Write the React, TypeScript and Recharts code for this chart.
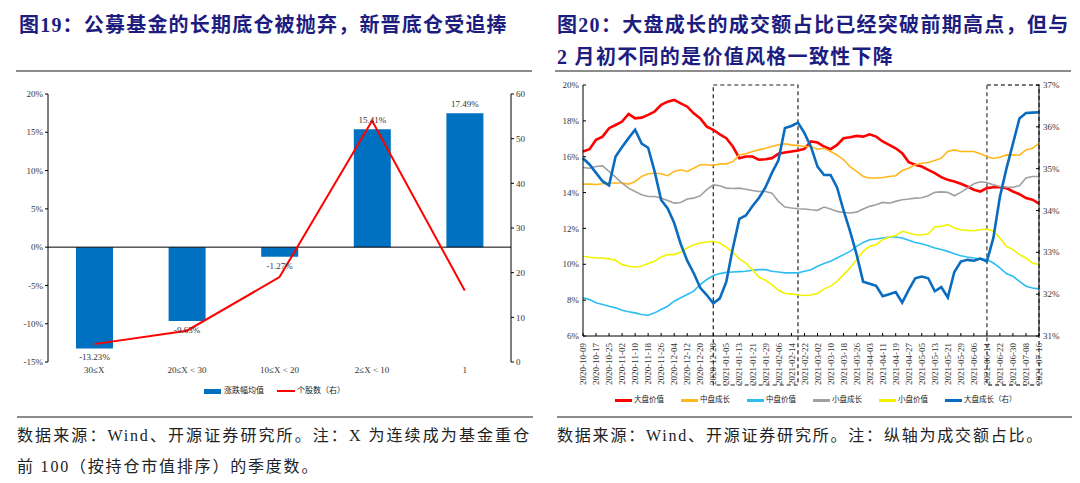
import { ComposedChart, LineChart, Bar, Line, XAxis, YAxis, ReferenceLine, ReferenceArea, LabelList } from "recharts";

const SERIF = "'Liberation Serif', 'Noto Sans CJK SC', serif";
const NAVY = "#1d1d80";
const INK = "#222";

// 图19：连续重仓季度数分组
const groups = ["30≤X", "20≤X < 30", "10≤X < 20", "2≤X < 10", "1"];
const avgReturn = [-13.23, -9.63, -1.27, 15.41, 17.49];
const stockCount = [4, 7, 19, 54, 16];

// 图20：成交额占比（每 4 日取一点）
const dates = [
  "2020-10-09", "2020-10-13", "2020-10-17", "2020-10-21", "2020-10-25", "2020-10-29",
  "2020-11-02", "2020-11-06", "2020-11-10", "2020-11-14", "2020-11-18", "2020-11-22", "2020-11-26", "2020-11-30",
  "2020-12-04", "2020-12-08", "2020-12-12", "2020-12-16", "2020-12-20", "2020-12-24", "2020-12-28",
  "2021-01-01", "2021-01-05", "2021-01-09", "2021-01-13", "2021-01-17", "2021-01-21", "2021-01-25", "2021-01-29",
  "2021-02-02", "2021-02-06", "2021-02-10", "2021-02-14", "2021-02-18", "2021-02-22", "2021-02-26",
  "2021-03-02", "2021-03-06", "2021-03-10", "2021-03-14", "2021-03-18", "2021-03-22", "2021-03-26", "2021-03-30",
  "2021-04-03", "2021-04-07", "2021-04-11", "2021-04-15", "2021-04-19", "2021-04-23", "2021-04-27",
  "2021-05-01", "2021-05-05", "2021-05-09", "2021-05-13", "2021-05-17", "2021-05-21", "2021-05-25", "2021-05-29",
  "2021-06-02", "2021-06-06", "2021-06-10", "2021-06-14", "2021-06-18", "2021-06-22", "2021-06-26", "2021-06-30",
  "2021-07-04", "2021-07-08", "2021-07-12", "2021-07-16",
];
const largeValue = [
  16.29, 16.42, 16.94, 17.12, 17.59, 17.77, 17.96, 18.39, 18.14, 18.18,
  18.33, 18.52, 18.89, 19.07, 19.17, 18.98, 18.79, 18.42, 18.14, 17.68,
  17.5, 17.25, 17.03, 16.57, 15.92, 16.01, 16.01, 15.83, 15.86, 15.92,
  16.16, 16.23, 16.29, 16.35, 16.44, 16.85, 16.79, 16.57, 16.42, 16.66,
  17.03, 17.09, 17.16, 17.12, 17.25, 17.12, 16.85, 16.66, 16.47, 16.2,
  15.7, 15.55, 15.45, 15.27, 15.08, 14.86, 14.71, 14.62, 14.49, 14.34,
  14.16, 14.06, 14.25, 14.3, 14.3, 14.25, 14.06, 13.91, 13.69, 13.6,
  13.38,
];
const midGrowth = [
  14.47, 14.47, 14.45, 14.49, 14.53, 14.53, 14.53, 14.47, 14.62, 14.9,
  15.05, 15.08, 15.05, 14.94, 15.18, 15.27, 15.18, 15.36, 15.55, 15.55,
  15.51, 15.6, 15.6, 15.73, 16.1, 16.16, 16.29, 16.38, 16.47, 16.57,
  16.66, 16.72, 16.66, 16.62, 16.57, 16.57, 16.42, 16.47, 16.29, 16.1,
  15.83, 15.45, 15.18, 14.9, 14.81, 14.81, 14.84, 14.9, 14.94, 15.23,
  15.36, 15.55, 15.64, 15.68, 15.79, 15.92, 16.29, 16.38, 16.29, 16.29,
  16.29, 16.16, 16.01, 15.9, 15.97, 16.1, 16.09, 16.1, 16.38, 16.47,
  16.75,
];
const midValue = [
  8.13, 8.03, 7.85, 7.76, 7.66, 7.57, 7.44, 7.35, 7.29, 7.2,
  7.16, 7.29, 7.48, 7.66, 7.94, 8.13, 8.31, 8.5, 8.87, 9.15,
  9.37, 9.48, 9.55, 9.57, 9.59, 9.61, 9.67, 9.7, 9.7, 9.61,
  9.57, 9.52, 9.52, 9.52, 9.61, 9.7, 9.89, 10.04, 10.17, 10.35,
  10.54, 10.72, 11.0, 11.22, 11.37, 11.41, 11.47, 11.52, 11.52, 11.47,
  11.34, 11.22, 11.15, 11.04, 10.91, 10.82, 10.72, 10.59, 10.48, 10.41,
  10.35, 10.3, 10.26, 10.07, 9.8, 9.48, 9.33, 9.05, 8.78, 8.68,
  8.63,
];
const smallGrowth = [
  15.4, 15.36, 15.45, 15.49, 15.18, 14.86, 14.53, 14.25, 14.06, 13.88,
  13.78, 13.78, 13.69, 13.56, 13.41, 13.45, 13.64, 13.69, 13.82, 14.16,
  14.43, 14.38, 14.25, 14.23, 14.25, 14.19, 14.12, 14.06, 14.06, 13.97,
  13.51, 13.19, 13.14, 13.1, 13.08, 13.04, 13.01, 13.19, 13.08, 12.95,
  12.89, 12.86, 12.91, 13.08, 13.23, 13.32, 13.45, 13.41, 13.51, 13.6,
  13.64, 13.69, 13.71, 13.82, 14.01, 14.04, 14.01, 13.82, 14.01, 14.25,
  14.49, 14.6, 14.56, 14.43, 14.34, 14.3, 14.3, 14.38, 14.81, 14.9,
  14.9,
];
const smallValue = [
  10.45, 10.39, 10.35, 10.35, 10.3, 10.22, 9.98, 9.89, 9.85, 9.89,
  10.04, 10.17, 10.41, 10.54, 10.54, 10.67, 10.91, 11.09, 11.19, 11.24,
  11.28, 11.19, 10.96, 10.67, 10.3, 10.07, 9.7, 9.29, 9.11, 8.87,
  8.55, 8.37, 8.35, 8.29, 8.26, 8.29, 8.37, 8.63, 8.78, 9.05,
  9.42, 9.8, 10.26, 10.72, 11.0, 11.09, 11.37, 11.52, 11.6, 11.84,
  11.74, 11.65, 11.65, 11.69, 12.08, 12.12, 12.21, 12.02, 11.93, 11.89,
  11.87, 11.93, 11.97, 11.84, 11.47, 11.0, 10.82, 10.54, 10.35, 10.07,
  9.98,
];
const largeGrowth = [
  35.25, 35.1, 34.9, 34.7, 34.6, 35.29, 35.52, 35.73, 35.93, 35.6,
  35.5, 34.93, 34.25, 34.05, 33.7, 33.2, 32.8, 32.5, 32.15, 31.98,
  31.78, 31.9, 32.3, 33.1, 33.8, 33.88, 34.1, 34.3, 34.55, 34.9,
  35.2, 35.97, 36.02, 36.1, 35.85, 35.52, 35.05, 34.85, 34.85, 34.55,
  34.0, 33.5, 32.95, 32.3, 32.25, 32.2, 31.95, 32.0, 32.05, 31.8,
  32.1, 32.38, 32.42, 32.38, 32.07, 32.17, 31.92, 32.53, 32.78, 32.82,
  32.8, 32.85, 32.78, 33.35, 34.33, 35.0, 35.6, 36.2, 36.33, 36.34,
  36.35,
];

const fig19 = groups.map((g, i) => ({ g, avg: avgReturn[i], cnt: stockCount[i] }));
const fig20 = dates.map((d, i) => ({
  d, lv: largeValue[i], mg: midGrowth[i], mv: midValue[i],
  sg: smallGrowth[i], sv: smallValue[i], lg: largeGrowth[i],
}));

const series20 = [
  { key: "lv", name: "大盘价值", color: "#FF0000", w: 2.6, axis: "l" },
  { key: "mg", name: "中盘成长", color: "#FFB81C", w: 1.6, axis: "l" },
  { key: "mv", name: "中盘价值", color: "#2DBDF0", w: 1.6, axis: "l" },
  { key: "sg", name: "小盘成长", color: "#A0A0A0", w: 1.6, axis: "l" },
  { key: "sv", name: "小盘价值", color: "#F2F200", w: 1.6, axis: "l" },
  { key: "lg", name: "大盘成长（右）", color: "#0A6CC0", w: 2.6, axis: "r" },
];

const tickFont = { fontSize: 9, fontFamily: SERIF, fill: "#333" };

const BarLabel = (p: any) => {
  const x = p.x ?? p.viewBox?.x;
  const y = p.y ?? p.viewBox?.y;
  const w = p.width ?? p.viewBox?.width;
  const h = p.height ?? p.viewBox?.height;
  const top = Math.min(y, y + h);
  const bottom = Math.max(y, y + h);
  const v = Number(p.value);
  return (
    <text x={x + w / 2} y={v >= 0 ? top - 6 : bottom + 12} textAnchor="middle" {...tickFont}>
      {v.toFixed(2)}%
    </text>
  );
};

const DateTick = ({ x, y, payload }: any) => (
  <g>
    <line x1={x} x2={x} y1={y} y2={y - 3} stroke="#000" />
    <text x={x} y={y + 7} transform={`rotate(-90 ${x} ${y + 7})`} textAnchor="end" dy="0.35em" {...tickFont}>
      {payload.value}
    </text>
  </g>
);

const LeftPctTick = ({ x, y, payload }: any) => (
  <g>
    <line x1={x} x2={x + 3} y1={y} y2={y} stroke="#000" />
    <text x={x - 4} y={y} dy="0.35em" textAnchor="end" {...tickFont}>{payload.value}%</text>
  </g>
);

const RightPctTick = ({ x, y, payload }: any) => (
  <g>
    <line x1={x} x2={x - 3} y1={y} y2={y} stroke="#000" />
    <text x={x + 4} y={y} dy="0.35em" textAnchor="start" {...tickFont}>{payload.value}%</text>
  </g>
);

const tallBox = (color: string, sw: number) => (p: any) => (
  <rect x={p.x} y={p.y} width={p.width} height={p.height + 49} fill="none"
    stroke={color} strokeWidth={sw} strokeDasharray="4 3" />
);

const abs = (left: number, top: number, extra: any = {}) => ({ position: "absolute" as const, left, top, ...extra });

export default function App() {
  return (
    <div style={abs(0, 0, { width: 1080, height: 483, background: "#fff", overflow: "hidden", fontFamily: SERIF })}>
      {/* titles */}
      <div style={abs(19, 15, { fontSize: 20, lineHeight: "20px", fontWeight: 700, color: NAVY, letterSpacing: 1.2, whiteSpace: "nowrap" })}>
        图19：公募基金的长期底仓被抛弃，新晋底仓受追捧
      </div>
      <div style={abs(557, 9, { fontSize: 20, lineHeight: "32px", fontWeight: 700, color: NAVY, letterSpacing: 1.3, whiteSpace: "nowrap" })}>
        图20：大盘成长的成交额占比已经突破前期高点，但与<br />2 月初不同的是价值风格一致性下降
      </div>
      <div style={abs(16, 70, { width: 516, height: 2, background: "#8c8c8c" })} />
      <div style={abs(555, 70, { width: 516, height: 2, background: "#8c8c8c" })} />

      {/* 图19 */}
      <div style={abs(0, 0)}>
        <ComposedChart width={540} height={483} data={fig19} margin={{ top: 94, right: 5, bottom: 101, left: 10 }}>
          <XAxis dataKey="g" axisLine={false} tickLine={false} tickSize={0} tickMargin={5} height={20} tick={tickFont} interval={0} />
          <YAxis yAxisId="l" domain={[-15, 20]} ticks={[-15, -10, -5, 0, 5, 10, 15, 20]} width={38}
            tick={tickFont} tickFormatter={(v: number) => `${v}%`} axisLine={{ stroke: "#000" }} tickLine={{ stroke: "#000" }} tickSize={3} />
          <YAxis yAxisId="r" orientation="right" domain={[0, 60]} ticks={[0, 10, 20, 30, 40, 50, 60]} width={24}
            tick={tickFont} axisLine={{ stroke: "#000" }} tickLine={{ stroke: "#000" }} tickSize={3} />
          <ReferenceLine yAxisId="l" y={0} stroke="#000" />
          <Bar yAxisId="l" dataKey="avg" fill="#0070C0" barSize={37} isAnimationActive={false}>
            <LabelList dataKey="avg" content={BarLabel} />
          </Bar>
          <Line yAxisId="r" type="linear" dataKey="cnt" stroke="#FF0000" strokeWidth={2} dot={false} isAnimationActive={false} />
        </ComposedChart>
      </div>
      <div style={abs(204, 385, { display: "flex", alignItems: "center", fontSize: 8, lineHeight: "12px", color: INK, whiteSpace: "nowrap" })}>
        <span style={{ width: 17, height: 5, background: "#0070C0", marginRight: 3 }} />
        <span>涨跌幅均值</span>
        <span style={{ width: 18, height: 2, background: "#FF0000", marginLeft: 13, marginRight: 2 }} />
        <span>个股数（右）</span>
      </div>

      {/* 图20 */}
      <div style={abs(540, 0)}>
        <LineChart width={540} height={483} data={fig20} margin={{ top: 85, right: 10, bottom: 97, left: 10 }}>
          <XAxis dataKey="d" interval={1} height={50} axisLine={{ stroke: "#000" }} tickLine={false} tickSize={0} tickMargin={0} tick={<DateTick />} />
          <YAxis yAxisId="l" domain={[6, 20]} ticks={[6, 8, 10, 12, 14, 16, 18, 20]} width={33}
            axisLine={{ stroke: "#000" }} tickLine={false} tickSize={0} tickMargin={0} tick={<LeftPctTick />} />
          <YAxis yAxisId="r" orientation="right" domain={[31, 37]} ticks={[31, 32, 33, 34, 35, 36, 37]} width={31}
            axisLine={{ stroke: "#000" }} tickLine={false} tickSize={0} tickMargin={0} tick={<RightPctTick />} />
          {series20.map(s => (
            <Line key={s.key} yAxisId={s.axis} type="linear" dataKey={s.key} name={s.name} stroke={s.color}
              strokeWidth={s.w} dot={false} isAnimationActive={false} />
          ))}
          <ReferenceArea yAxisId="l" x1="2020-12-28" x2="2021-02-18" y1={6} y2={20} ifOverflow="visible" shape={tallBox("#222", 1.2)} />
          <ReferenceArea yAxisId="l" x1="2021-06-14" x2="2021-07-16" y1={6} y2={20} ifOverflow="visible" shape={tallBox("#777", 1.8)} />
        </LineChart>
      </div>
      <div style={abs(615, 394, { display: "flex", alignItems: "center", fontSize: 7.5, lineHeight: "12px", color: INK, whiteSpace: "nowrap", gap: 17 })}>
        {series20.map(s => (
          <span key={s.key} style={{ display: "flex", alignItems: "center" }}>
            <span style={{ width: 17, height: 3, background: s.color, marginRight: 2 }} />
            <span>{s.name}</span>
          </span>
        ))}
      </div>

      {/* footers */}
      <div style={abs(17, 416, { width: 516, height: 2, background: "#8c8c8c" })} />
      <div style={abs(557, 416, { width: 515, height: 2, background: "#8c8c8c" })} />
      <div style={abs(17, 420, { width: 514, fontSize: 16, lineHeight: "31px", color: INK, letterSpacing: 1.8 })}>
        <div style={{ textAlign: "justify", textAlignLast: "justify", whiteSpace: "nowrap" }}>数据来源：Wind、开源证券研究所。注：X 为连续成为基金重仓</div>
        <div style={{ whiteSpace: "nowrap" }}>前 100（按持仓市值排序）的季度数。</div>
      </div>
      <div style={abs(557, 420, { fontSize: 16, lineHeight: "31px", color: INK, letterSpacing: 1.8, whiteSpace: "nowrap" })}>
        数据来源：Wind、开源证券研究所。注：纵轴为成交额占比。
      </div>
    </div>
  );
}
